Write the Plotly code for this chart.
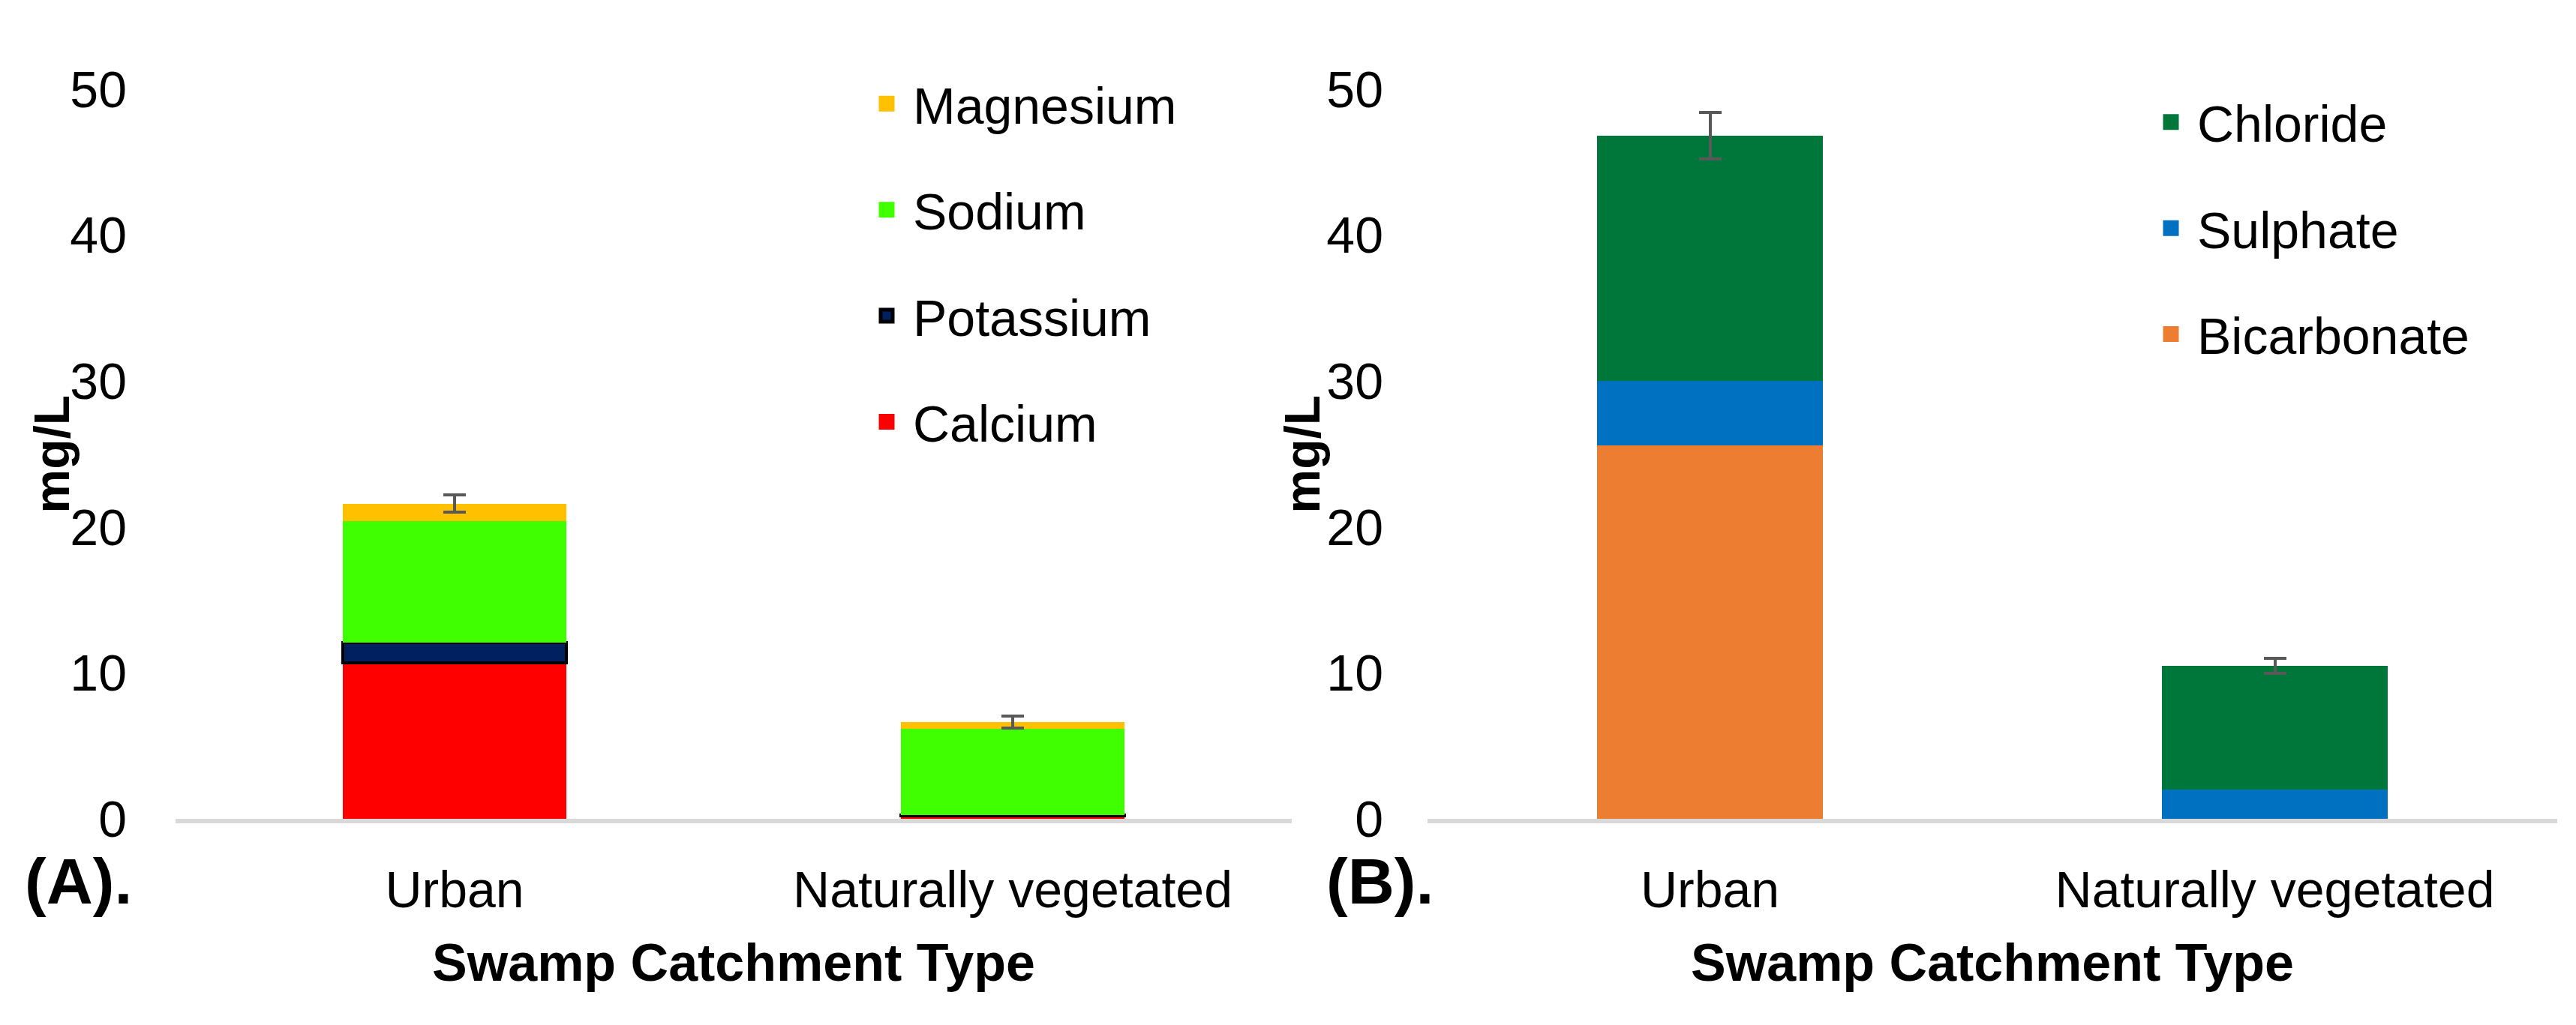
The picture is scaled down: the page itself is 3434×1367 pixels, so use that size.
import plotly.graph_objects as go
from plotly.subplots import make_subplots

# swamp catchment types
categories = ["Urban", "Naturally vegetated"]

# (A) cations, mg/L
calcium = [10.7, 0.25]
potassium = [1.4, 0.05]
sodium = [8.3, 5.9]
magnesium = [1.2, 0.45]
cation_err = [0.6, 0.4]

# (B) anions, mg/L
bicarbonate = [25.6, 0.0]
sulphate = [4.4, 2.0]
chloride = [16.8, 8.5]
anion_err = [1.6, 0.5]

y_ticks = [0, 10, 20, 30, 40, 50]

FONT = "Liberation Sans, Arial, sans-serif"
W, H = 3434, 1367

fig = make_subplots(rows=1, cols=2)

err_style = dict(type="data", color="#595959", thickness=4, width=15)


def add_stack(series, errs, col, legend):
    n = len(series)
    for i, (name, vals, colour, edge) in enumerate(series):
        line = dict(color=edge, width=4) if edge else dict(width=0)
        fig.add_trace(go.Bar(
            x=categories, y=vals, name=name, marker=dict(color=colour, line=line),
            showlegend=False, legendgroup=name,
            error_y=dict(array=errs, **err_style) if i == n - 1 else None,
        ), row=1, col=col)
        # legend entry only: square marker gives a bigger swatch than the bar symbol
        fig.add_trace(go.Scatter(
            x=[None], y=[None], mode="markers", name=name, legend=legend,
            legendgroup=name, legendrank=n - i,
            marker=dict(symbol="square", size=16, color=colour,
                        line=dict(color=edge or colour, width=5)),
        ), row=1, col=col)


add_stack([
    ("Calcium", calcium, "#FF0000", None),
    ("Potassium", potassium, "#002060", "#000000"),
    ("Sodium", sodium, "#40FF00", None),
    ("Magnesium", magnesium, "#FFC000", None),
], cation_err, 1, "legend")

add_stack([
    ("Bicarbonate", bicarbonate, "#ED7D31", None),
    ("Sulphate", sulphate, "#0070C0", None),
    ("Chloride", chloride, "#00773A", None),
], anion_err, 2, "legend2")

y_bot = (H - 1108) / H
y_top = (H - 77) / H

xax = dict(
    showline=True, linecolor="#D9D9D9", linewidth=6, layer="below traces",
    ticks="", showgrid=False, zeroline=False,
    tickfont=dict(family=FONT, size=68, color="#000000"),
    ticklabelstandoff=30,
    title=dict(text="<b>Swamp Catchment Type</b>", standoff=38,
               font=dict(family=FONT, size=70, color="#000000")),
)
yax = dict(
    range=[0, 50], tickvals=y_ticks, showline=False, showgrid=False, zeroline=False,
    ticks="", tickfont=dict(family=FONT, size=68, color="#000000"),
    domain=[y_bot, y_top],
)

legend_style = dict(
    xanchor="left", yanchor="top", traceorder="grouped", tracegroupgap=50,
    itemwidth=60, font=dict(family=FONT, size=68, color="#000000"),
    bgcolor="rgba(0,0,0,0)",
)

fig.update_layout(
    width=W, height=H,
    margin=dict(l=0, r=0, t=0, b=0),
    paper_bgcolor="white", plot_bgcolor="white",
    barmode="stack", bargap=0.6,
    xaxis=dict(xax, domain=[226 / W, 1714 / W]),
    xaxis2=dict(xax, domain=[1895 / W, 3401 / W]),
    yaxis=dict(yax, ticklabelstandoff=64),
    yaxis2=dict(yax, ticklabelstandoff=58),
    legend=dict(legend_style, x=1139 / W, y=(H - 44) / H),
    legend2=dict(legend_style, x=2851 / W, y=(H - 70) / H),
    showlegend=True,
)

# y-axis titles
for xpos in (61, 1728):
    fig.add_annotation(text="<b>mg/L</b>", x=xpos / W, y=(y_bot + y_top) / 2,
                       xref="paper", yref="paper", textangle=-90,
                       xanchor="center", yanchor="middle", showarrow=False,
                       font=dict(family=FONT, size=66, color="#000000"))

# panel letters
for label, xpos in (("(A).", 96), ("(B).", 1831)):
    fig.add_annotation(text="<b>" + label + "</b>", x=xpos / W, y=(H - 1195) / H,
                       xref="paper", yref="paper", xanchor="center", yanchor="middle",
                       showarrow=False, font=dict(family=FONT, size=86, color="#000000"))

fig.write_html("out.html")
